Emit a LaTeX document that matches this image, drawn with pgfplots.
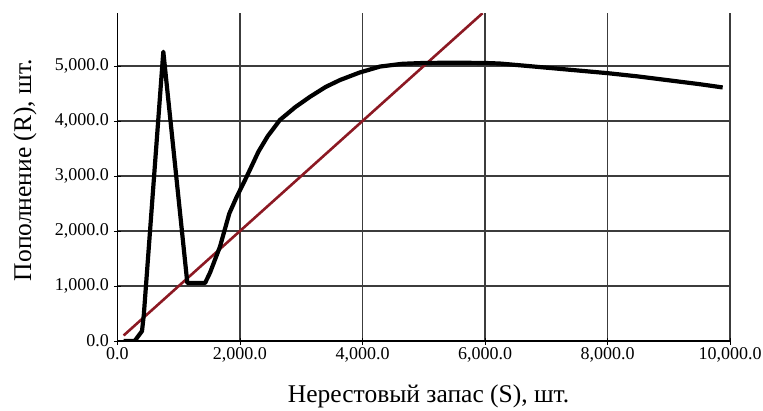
\documentclass[border=0pt]{standalone}
\usepackage{pgfplots}
\pgfplotsset{compat=1.18}
\usepackage{fontspec}
\setmainfont{Liberation Serif}
\definecolor{redline}{RGB}{140,25,35}
\definecolor{gridc}{RGB}{60,60,60}
\begin{document}
\begin{tikzpicture}
\useasboundingbox (-117.5pt,-69pt) rectangle (645.5pt,341pt);
\begin{axis}[
  at={(0,0)}, anchor=south west,
  scale only axis,
  width=612.5pt, height=327.8pt,
  xmin=0, xmax=10000, ymin=0, ymax=5960,
  axis x line=bottom, axis y line=left,
  x axis line style={-, line width=2.2pt},
  y axis line style={-, line width=1.4pt},
  xtick={0,2000,4000,6000,8000,10000},
  ytick={0,1000,2000,3000,4000,5000},
  tick align=center,
  major tick length=7pt,
  tick style={black, line width=0.9pt},
  grid=major,
  major grid style={gridc, line width=1.1pt},
  scaled ticks=false,
  /pgf/number format/.cd, fixed, fixed zerofill, precision=1, 1000 sep={,}, assume math mode=true,
  /pgfplots/.cd,
  ticklabel style={font=\fontsize{18}{20}\selectfont},
  xticklabel style={inner sep=2.5pt},
  yticklabel style={inner sep=5pt},
  xlabel={Нерестовый запас (S), шт.},
  ylabel={Пополнение (R), шт.},
  label style={font=\fontsize{25.5}{28}\selectfont},
  xlabel style={at={(axis description cs:0.508,-0.1879)}, anchor=base},
  ylabel style={at={(axis description cs:-0.1412,0.521)}, anchor=base, rotate=0},
]
\addplot[redline, line width=2.6pt] coordinates {(100,100) (5960,5960)};
\addplot[black, line width=4.2pt, line join=round] coordinates {
(100,0) (280,0) (400,180) (430,480) (748,5260) (1140,1055) (1430,1055)
(1510,1240) (1673,1715) (1826,2320) (1946,2620) (2110,2990) (2300,3440)
(2450,3720) (2653,4020) (2900,4250) (3143,4440) (3400,4620) (3633,4745)
(3950,4880) (4286,4990) (4650,5040) (5000,5055) (5500,5060) (6000,5055)
(6240,5045) (6600,5010) (7000,4970) (7500,4920) (8000,4870) (8500,4810)
(9000,4740) (9500,4670) (9880,4610)};
\end{axis}
\end{tikzpicture}
\end{document}
